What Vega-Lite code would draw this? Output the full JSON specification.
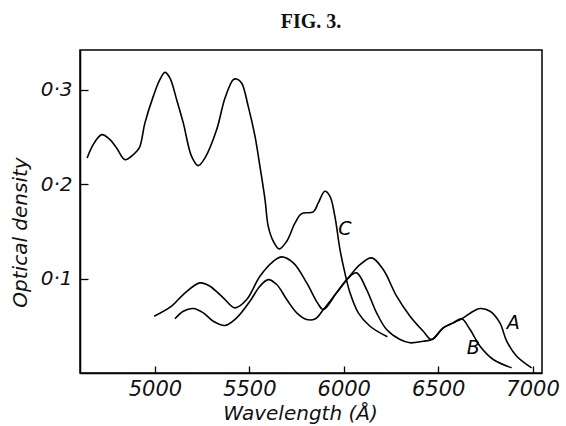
{
  "$schema": "https://vega.github.io/schema/vega-lite/v6.json",
  "autosize": "none",
  "width": 462,
  "height": 323,
  "padding": {"left": 80, "top": 50, "right": 24, "bottom": 53},
  "background": "white",
  "title": {"text": "FIG. 3.", "font": "Liberation Serif", "fontSize": 20, "fontWeight": "bold", "color": "#111", "offset": 18},
  "config": {
    "view": {"stroke": "black", "strokeWidth": 1.5},
    "axis": {"labelFont": "DejaVu Sans", "labelFontStyle": "italic", "titleFont": "DejaVu Sans", "titleFontStyle": "italic", "titleFontWeight": "normal", "labelColor": "#111", "titleColor": "#111", "domainColor": "black", "domainWidth": 1.5, "tickColor": "black", "tickWidth": 1.3, "grid": false}
  },
  "datasets": {
    "curves": [
      {"series": "C", "wavelength": 4641, "density": 0.2277},
      {"series": "C", "wavelength": 4673, "density": 0.2418},
      {"series": "C", "wavelength": 4718, "density": 0.2524},
      {"series": "C", "wavelength": 4762, "density": 0.2471},
      {"series": "C", "wavelength": 4797, "density": 0.2383},
      {"series": "C", "wavelength": 4841, "density": 0.2259},
      {"series": "C", "wavelength": 4885, "density": 0.2312},
      {"series": "C", "wavelength": 4917, "density": 0.2383},
      {"series": "C", "wavelength": 4947, "density": 0.2648},
      {"series": "C", "wavelength": 4991, "density": 0.2929},
      {"series": "C", "wavelength": 5026, "density": 0.3106},
      {"series": "C", "wavelength": 5053, "density": 0.3183},
      {"series": "C", "wavelength": 5079, "density": 0.3124},
      {"series": "C", "wavelength": 5115, "density": 0.2894},
      {"series": "C", "wavelength": 5150, "density": 0.2648},
      {"series": "C", "wavelength": 5194, "density": 0.2294},
      {"series": "C", "wavelength": 5229, "density": 0.2196},
      {"series": "C", "wavelength": 5265, "density": 0.2277},
      {"series": "C", "wavelength": 5327, "density": 0.2577},
      {"series": "C", "wavelength": 5371, "density": 0.2912},
      {"series": "C", "wavelength": 5415, "density": 0.3106},
      {"series": "C", "wavelength": 5433, "density": 0.3113},
      {"series": "C", "wavelength": 5459, "density": 0.3071},
      {"series": "C", "wavelength": 5494, "density": 0.2823},
      {"series": "C", "wavelength": 5530, "density": 0.2506},
      {"series": "C", "wavelength": 5556, "density": 0.2188},
      {"series": "C", "wavelength": 5583, "density": 0.1836},
      {"series": "C", "wavelength": 5600, "density": 0.1553},
      {"series": "C", "wavelength": 5627, "density": 0.1395},
      {"series": "C", "wavelength": 5658, "density": 0.1314},
      {"series": "C", "wavelength": 5698, "density": 0.1395},
      {"series": "C", "wavelength": 5742, "density": 0.1589},
      {"series": "C", "wavelength": 5777, "density": 0.1688},
      {"series": "C", "wavelength": 5839, "density": 0.1706},
      {"series": "C", "wavelength": 5865, "density": 0.1801},
      {"series": "C", "wavelength": 5900, "density": 0.1924},
      {"series": "C", "wavelength": 5927, "density": 0.1871},
      {"series": "C", "wavelength": 5953, "density": 0.1659},
      {"series": "C", "wavelength": 5980, "density": 0.1307},
      {"series": "C", "wavelength": 6006, "density": 0.106},
      {"series": "C", "wavelength": 6033, "density": 0.0849},
      {"series": "C", "wavelength": 6077, "density": 0.0637},
      {"series": "C", "wavelength": 6139, "density": 0.0495},
      {"series": "C", "wavelength": 6231, "density": 0.0383},
      {"series": "A", "wavelength": 4996, "density": 0.0601},
      {"series": "A", "wavelength": 5088, "density": 0.0707},
      {"series": "A", "wavelength": 5150, "density": 0.0831},
      {"series": "A", "wavelength": 5238, "density": 0.0954},
      {"series": "A", "wavelength": 5291, "density": 0.0919},
      {"series": "A", "wavelength": 5362, "density": 0.0796},
      {"series": "A", "wavelength": 5424, "density": 0.069},
      {"series": "A", "wavelength": 5486, "density": 0.0778},
      {"series": "A", "wavelength": 5556, "density": 0.1025},
      {"series": "A", "wavelength": 5627, "density": 0.1183},
      {"series": "A", "wavelength": 5671, "density": 0.123},
      {"series": "A", "wavelength": 5733, "density": 0.1166},
      {"series": "A", "wavelength": 5804, "density": 0.0954},
      {"series": "A", "wavelength": 5860, "density": 0.0745},
      {"series": "A", "wavelength": 5892, "density": 0.0672},
      {"series": "A", "wavelength": 5959, "density": 0.0841},
      {"series": "A", "wavelength": 6024, "density": 0.1007},
      {"series": "A", "wavelength": 6086, "density": 0.1148},
      {"series": "A", "wavelength": 6148, "density": 0.1219},
      {"series": "A", "wavelength": 6209, "density": 0.1095},
      {"series": "A", "wavelength": 6280, "density": 0.0813},
      {"series": "A", "wavelength": 6351, "density": 0.0601},
      {"series": "A", "wavelength": 6421, "density": 0.0442},
      {"series": "A", "wavelength": 6466, "density": 0.0354},
      {"series": "A", "wavelength": 6527, "density": 0.0478},
      {"series": "A", "wavelength": 6580, "density": 0.0531},
      {"series": "A", "wavelength": 6625, "density": 0.0574},
      {"series": "A", "wavelength": 6686, "density": 0.0654},
      {"series": "A", "wavelength": 6722, "density": 0.0683},
      {"series": "A", "wavelength": 6775, "density": 0.0654},
      {"series": "A", "wavelength": 6827, "density": 0.0531},
      {"series": "A", "wavelength": 6863, "density": 0.0337},
      {"series": "A", "wavelength": 6916, "density": 0.0178},
      {"series": "A", "wavelength": 6995, "density": 0.0055},
      {"series": "B", "wavelength": 5106, "density": 0.0574},
      {"series": "B", "wavelength": 5150, "density": 0.0654},
      {"series": "B", "wavelength": 5203, "density": 0.0683},
      {"series": "B", "wavelength": 5256, "density": 0.0637},
      {"series": "B", "wavelength": 5309, "density": 0.0548},
      {"series": "B", "wavelength": 5371, "density": 0.0503},
      {"series": "B", "wavelength": 5433, "density": 0.0584},
      {"series": "B", "wavelength": 5503, "density": 0.076},
      {"series": "B", "wavelength": 5556, "density": 0.0919},
      {"series": "B", "wavelength": 5600, "density": 0.0989},
      {"series": "B", "wavelength": 5645, "density": 0.0937},
      {"series": "B", "wavelength": 5698, "density": 0.0778},
      {"series": "B", "wavelength": 5751, "density": 0.0637},
      {"series": "B", "wavelength": 5804, "density": 0.0566},
      {"series": "B", "wavelength": 5850, "density": 0.0575},
      {"series": "B", "wavelength": 5892, "density": 0.0672},
      {"series": "B", "wavelength": 5959, "density": 0.0841},
      {"series": "B", "wavelength": 6024, "density": 0.1007},
      {"series": "B", "wavelength": 6068, "density": 0.106},
      {"series": "B", "wavelength": 6121, "density": 0.0884},
      {"series": "B", "wavelength": 6174, "density": 0.0637},
      {"series": "B", "wavelength": 6227, "density": 0.046},
      {"series": "B", "wavelength": 6298, "density": 0.0354},
      {"series": "B", "wavelength": 6351, "density": 0.032},
      {"series": "B", "wavelength": 6421, "density": 0.0337},
      {"series": "B", "wavelength": 6466, "density": 0.0354},
      {"series": "B", "wavelength": 6527, "density": 0.0478},
      {"series": "B", "wavelength": 6580, "density": 0.0531},
      {"series": "B", "wavelength": 6625, "density": 0.0574},
      {"series": "B", "wavelength": 6669, "density": 0.046},
      {"series": "B", "wavelength": 6722, "density": 0.0284},
      {"series": "B", "wavelength": 6792, "density": 0.0143},
      {"series": "B", "wavelength": 6889, "density": 0.0055}
    ],
    "labels": [
      {"label": "A", "wavelength": 6898, "density": 0.053},
      {"label": "B", "wavelength": 6686, "density": 0.027},
      {"label": "C", "wavelength": 6006, "density": 0.153}
    ]
  },
  "layer": [
    {
      "data": {"name": "curves"},
      "mark": {"type": "line", "interpolate": "catmull-rom", "color": "black", "strokeWidth": 1.6},
      "encoding": {
        "x": {"field": "wavelength", "type": "quantitative", "scale": {"domain": [4603, 7050], "nice": false, "zero": false},
          "axis": {"title": "Wavelength (Å)", "titleFontSize": 20, "titlePadding": 4, "titleX": 220, "values": [5000, 5500, 6000, 6500, 7000], "format": "d", "labelFontSize": 21, "tickSize": -7, "labelPadding": 12, "labelFlush": false}},
        "y": {"field": "density", "type": "quantitative", "scale": {"domain": [0, 0.342], "nice": false},
          "axis": {"title": "Optical density", "titleFontSize": 20, "titlePadding": 10, "titleY": 182, "values": [0.1, 0.2, 0.3], "labelExpr": "replace(format(datum.value, '.1f'), '.', '·')", "labelFontSize": 20, "tickSize": -8, "labelPadding": 16}},
        "detail": {"field": "series"}
      }
    },
    {
      "data": {"name": "labels"},
      "mark": {"type": "text", "font": "DejaVu Sans", "fontStyle": "italic", "fontSize": 19, "color": "black"},
      "encoding": {
        "x": {"field": "wavelength", "type": "quantitative"},
        "y": {"field": "density", "type": "quantitative"},
        "text": {"field": "label"}
      }
    }
  ]
}
